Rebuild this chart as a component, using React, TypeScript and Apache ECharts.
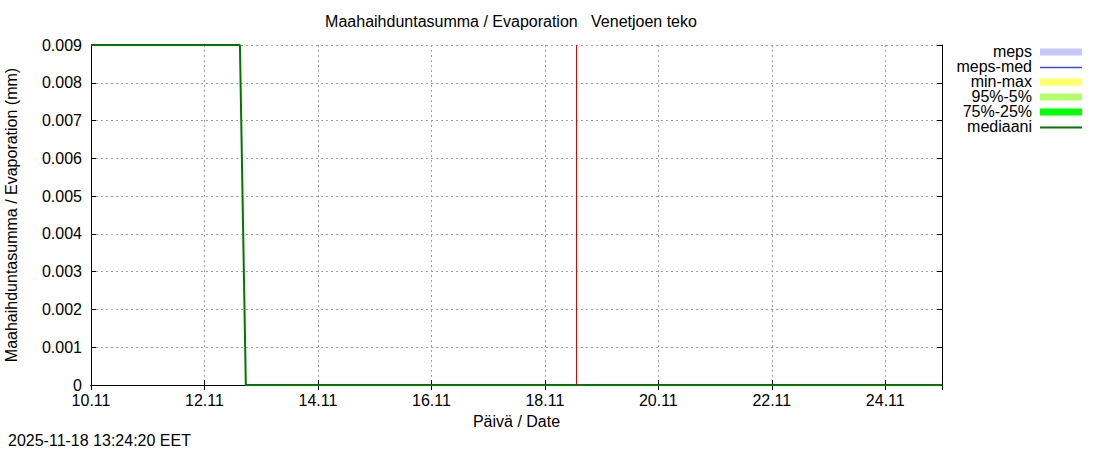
// Haihdunta-kuvaaja (gnuplot-tyylinen): mediaani-ennuste, nykyhetken pystyviiva ja
// oikean reunan selite. Selite piirretään graphic-elementeillä, jotta tekstit ovat
// oikealle tasattuja ja värilaatikot samassa sarakkeessa kuten alkuperäisessä.
import { useEffect, useRef } from 'react'
import * as echarts from 'echarts'

const FONT = "'Liberation Sans', Arial, sans-serif"

const otsikko = 'Maahaihduntasumma / Evaporation   Venetjoen teko'
const yNimi = 'Maahaihduntasumma / Evaporation (mm)'
const xNimi = 'Päivä / Date'
const aikaleima = '2025-11-18 13:24:20 EET'

const xAlku = '2025-11-10 00:00'
const xLoppu = '2025-11-25 00:00'
const nyt = '2025-11-18 13:24'

const mediaaniAjat = ['2025-11-10 00:00', '2025-11-12 15:00', '2025-11-12 17:30', '2025-11-25 00:00']
const mediaaniArvot = [0.009, 0.009, 0, 0]

const seliteNimet = ['meps', 'meps-med', 'min-max', '95%-5%', '75%-25%', 'mediaani']
const seliteVarit = ['#c8c8f8', '#4848e0', '#ffff66', '#b4ff6a', '#00ff00', '#007800']
const seliteTyypit = ['band', 'line', 'band', 'band', 'band', 'line']

const PAIVA = 86400000

function ms(s: string) {
  const [pvm, klo] = s.split(' ')
  const [v, k, p] = pvm.split('-').map(Number)
  const [h, m] = klo.split(':').map(Number)
  return Date.UTC(v, k - 1, p, h, m)
}

export default function App() {
  const ref = useRef<HTMLDivElement>(null)

  useEffect(() => {
    document.body.style.margin = '0'
    if (!ref.current) return
    const chart = echarts.init(ref.current, undefined, { renderer: 'svg' })

    const tekstiTyyli = { fontFamily: FONT, fontSize: 16, fill: '#000' }
    const selite: any[] = []
    seliteNimet.forEach((nimi, i) => {
      const yc = 52 + i * 15
      selite.push({
        type: 'text',
        right: 1100 - 1032,
        top: yc - 9,
        style: { ...tekstiTyyli, text: nimi, textAlign: 'right' },
      })
      if (seliteTyypit[i] === 'band') {
        selite.push({
          type: 'rect',
          shape: { x: 1040, y: yc - 3.5, width: 42, height: 7 },
          style: { fill: seliteVarit[i] },
        })
      } else {
        selite.push({
          type: 'line',
          shape: { x1: 1040, y1: yc + 0.5, x2: 1082, y2: yc + 0.5 },
          style: { stroke: seliteVarit[i], lineWidth: i === 5 ? 2 : 1.5 },
        })
      }
    })

    const pisteViiva = { color: '#a0a0a0', width: 1, type: [2, 3] as number[] }
    const reuna = { show: true, lineStyle: { color: '#000', width: 1 } }
    const tikki = { show: true, inside: true, length: 5, lineStyle: { color: '#000' } }

    chart.setOption({
      animation: false,
      backgroundColor: '#fff',
      textStyle: { fontFamily: FONT },
      grid: { left: 91, right: 158, top: 45, bottom: 65, outerBoundsMode: 'none', containLabel: false },
      graphic: [
        {
          type: 'text',
          x: 511,
          y: 13,
          style: { ...tekstiTyyli, text: otsikko, textAlign: 'center' },
        },
        {
          type: 'text',
          x: 8,
          y: 432,
          style: { ...tekstiTyyli, text: aikaleima },
        },
        ...selite,
      ],
      xAxis: [
        {
          type: 'value',
          min: ms(xAlku),
          max: ms(xLoppu),
          interval: 2 * PAIVA,
          name: xNimi,
          nameLocation: 'middle',
          nameGap: 28,
          nameTextStyle: { fontSize: 16, color: '#000', fontFamily: FONT },
          axisLine: reuna,
          axisTick: tikki,
          axisLabel: {
            fontSize: 16,
            color: '#000',
            margin: 7,
            showMaxLabel: false,
            formatter: (v: number) => {
              const d = new Date(v)
              return `${d.getUTCDate()}.${d.getUTCMonth() + 1}`
            },
          },
          splitLine: { show: true, lineStyle: pisteViiva },
        },
        {
          type: 'value',
          position: 'top',
          min: ms(xAlku),
          max: ms(xLoppu),
          interval: 2 * PAIVA,
          axisLine: reuna,
          axisTick: tikki,
          axisLabel: { show: false },
          splitLine: { show: false },
        },
      ],
      yAxis: [
        {
          type: 'value',
          min: 0,
          max: 0.009,
          interval: 0.001,
          name: yNimi,
          nameLocation: 'middle',
          nameGap: 72,
          nameTextStyle: { fontSize: 16, color: '#000', fontFamily: FONT },
          axisLine: reuna,
          axisTick: tikki,
          axisLabel: {
            fontSize: 16,
            color: '#000',
            margin: 9,
            formatter: (v: number) => (v === 0 ? '0' : v.toFixed(3)),
          },
          splitLine: { show: true, lineStyle: pisteViiva },
        },
        {
          type: 'value',
          position: 'right',
          min: 0,
          max: 0.009,
          interval: 0.001,
          axisLine: reuna,
          axisTick: tikki,
          axisLabel: { show: false },
          splitLine: { show: false },
        },
      ],
      series: [
        {
          name: 'mediaani',
          type: 'line',
          xAxisIndex: 0,
          yAxisIndex: 0,
          data: mediaaniAjat.map((t, i) => [ms(t), mediaaniArvot[i]]),
          showSymbol: false,
          lineStyle: { color: '#007800', width: 2 },
          z: 3,
          markLine: {
            silent: true,
            symbol: 'none',
            label: { show: false },
            lineStyle: { color: '#e00000', width: 1, type: 'solid' },
            data: [{ xAxis: ms(nyt) }],
          },
        },
      ],
    })

    return () => chart.dispose()
  }, [])

  return <div ref={ref} style={{ width: 1100, height: 450 }} />
}
